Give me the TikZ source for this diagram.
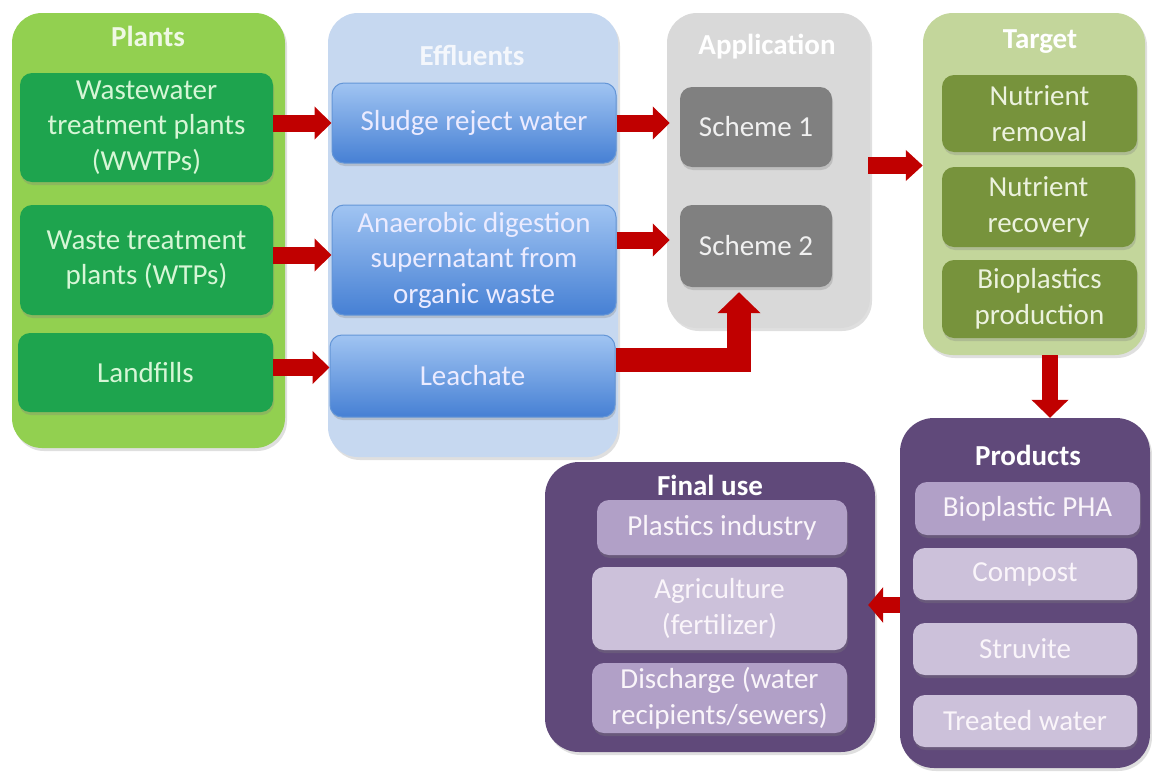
\documentclass[tikz,border=0pt]{standalone}
\usepackage{fontspec}
\setmainfont{Carlito}
\usetikzlibrary{arrows.meta,calc,shadows}

% palette
\definecolor{plantbg}{RGB}{146,208,80}
\definecolor{plantbox}{RGB}{30,164,78}
\definecolor{planttxt}{RGB}{214,246,214}
\definecolor{efflbg}{RGB}{198,216,240}
\definecolor{effltop}{RGB}{160,196,242}
\definecolor{efflbot}{RGB}{70,128,212}
\definecolor{efflline}{RGB}{100,150,215}
\definecolor{appbg}{RGB}{217,217,217}
\definecolor{schemebox}{RGB}{128,128,128}
\definecolor{targetbg}{RGB}{195,214,155}
\definecolor{targetbox}{RGB}{119,147,60}
\definecolor{targettxt}{RGB}{236,242,222}
\definecolor{purplebg}{RGB}{96,73,122}
\definecolor{lavdark}{RGB}{177,160,199}
\definecolor{lavlight}{RGB}{204,193,218}
\definecolor{arrowred}{RGB}{192,0,0}

\tikzset{
  base/.style={rectangle, inner sep=0pt, align=center,
    font=\fontsize{29}{35.5}\selectfont},
  container/.style={base, rounded corners=30pt,
    drop shadow={opacity=0.25, shadow xshift=2pt, shadow yshift=-3pt}},
  inbox/.style={base, rounded corners=12pt,
    drop shadow={opacity=0.3, shadow xshift=1pt, shadow yshift=-3pt}},
  heading/.style={base, font=\fontsize{29}{35}\selectfont\bfseries, text=white},
  plantbx/.style={inbox, fill=plantbox, text=planttxt},
  efflbx/.style={inbox, top color=effltop, bottom color=efflbot, draw=efflline,
    line width=1pt, text=white!92!blue},
  schemebx/.style={inbox, fill=schemebox, text=white!94!black},
  targetbx/.style={inbox, fill=targetbox, text=targettxt},
  lavd/.style={inbox, fill=lavdark, text=white!96!violet},
  lavl/.style={inbox, fill=lavlight, text=white!96!violet},
  redarr/.style={draw=arrowred, line width=17pt,
    -{Triangle[length=17pt, width=32pt]}},
  bigarr/.style={draw=arrowred, line width=24pt, miter limit=10,
    -{Triangle[length=21pt, width=42pt]}},
}

\begin{document}
\begin{tikzpicture}[x=1pt, y=-1pt]
\useasboundingbox[fill=white] (0,0) rectangle (1152,774);

% ---- containers ----
\node[container, fill=plantbg, minimum width=273pt, minimum height=435pt] (plants) at (148.5,230.5) {};
\node[container, fill=efflbg, minimum width=290pt, minimum height=444pt] (effl) at (473,235) {};
\node[container, fill=appbg, minimum width=203pt, minimum height=315pt] (app) at (768.5,170.5) {};
\node[container, fill=targetbg, minimum width=222pt, minimum height=342pt] (target) at (1034,184) {};
\node[container, fill=purplebg, rounded corners=34pt, minimum width=250pt, minimum height=350pt] (products) at (1025,593) {};
\node[container, fill=purplebg, rounded corners=34pt, minimum width=330pt, minimum height=290pt] (final) at (710,607) {};

% ---- headings ----
\node[heading, text=white!85!plantbg] (plantsT) at (148,36) {Plants};
\node[heading, text=white!80!efflbg] (efflT) at (472,55) {Effluents};
\node[heading] (appT) at (767,47) {Application};
\node[heading] (targetT) at (1040,42) {Target};
\node[heading] (prodT) at (1028,455) {Products};
\node[heading] (finalT) at (710,485) {Final use};

% ---- plants ----
\node[plantbx, minimum width=253pt, minimum height=109pt] (wwtp) at (146.5,127.5) {Wastewater\\treatment plants\\(WWTPs)};
\node[plantbx, minimum width=253pt, minimum height=110pt] (wtp) at (146.5,260) {Waste treatment\\plants (WTPs)};
\node[plantbx, minimum width=255pt, minimum height=79pt] (landfill) at (145.5,372.5) {Landfills};

% ---- effluents ----
\node[efflbx, minimum width=284pt, minimum height=80pt] (sludge) at (474,123) {Sludge reject water};
\node[efflbx, minimum width=284pt, minimum height=110pt] (anaer) at (474,260) {Anaerobic digestion\\supernatant from\\organic waste};
\node[efflbx, minimum width=285pt, minimum height=82pt] (leach) at (472.5,376) {Leachate};

% ---- application ----
\node[schemebx, minimum width=152pt, minimum height=80pt] (scheme1) at (756,127) {Scheme 1};
\node[schemebx, minimum width=152pt, minimum height=82pt] (scheme2) at (756,246) {Scheme 2};

% ---- target ----
\node[targetbx, minimum width=195pt, minimum height=77pt] (nrem) at (1039.5,113.5) {Nutrient\\removal};
\node[targetbx, minimum width=193pt, minimum height=80pt] (nrec) at (1038.5,207) {Nutrient\\recovery};
\node[targetbx, minimum width=195pt, minimum height=78pt] (bio) at (1039.5,299) {Bioplastics\\production};

% ---- products ----
\node[lavd, minimum width=225pt, minimum height=53pt] (pha) at (1027.5,508.5) {Bioplastic PHA};
\node[lavl, minimum width=224pt, minimum height=52pt] (compost) at (1025,574) {Compost};
\node[lavl, minimum width=224pt, minimum height=52pt] (struvite) at (1025,649) {Struvite};
\node[lavl, minimum width=224pt, minimum height=52pt] (treated) at (1025,721) {Treated water};

% ---- final use ----
\node[lavd, minimum width=250pt, minimum height=55pt] (plastics) at (722,527.5) {Plastics industry};
\node[lavl, minimum width=255pt, minimum height=83pt] (agri) at (719.5,608.5) {Agriculture\\(fertilizer)};
\node[lavd, minimum width=255pt, minimum height=70pt] (disch) at (719.5,698) {Discharge (water\\recipients/sewers)};

% ---- flow arrows ----
\draw[redarr] (wwtp.east |- sludge.west) -- (sludge.west);
\draw[redarr] ($(wtp.east)+(0,-5)$) coordinate (c2) -- (c2 -| anaer.west);
\draw[redarr] ($(landfill.east)+(0,-5)$) coordinate (c3) -- (c3 -| leach.west);

\draw[redarr] (sludge.east) -- ($(scheme1.west |- sludge.east)+(-10,0)$);
\draw[redarr] ($(anaer.east)+(0,-20)$) coordinate (c5) -- ($(c5 -| scheme2.west)+(-10,0)$);
\draw[bigarr] ($(leach.east)+(0,-16)$) coordinate (c6) -| ($(scheme2.south)+(-17,5)$);

\draw[redarr, -{Triangle[length=17pt, width=30pt]}] ($(app.east)+(-2,-5)$) coordinate (c7) -- (c7 -| target.west);
\draw[redarr, line width=16pt, -{Triangle[length=18pt, width=36pt]}] ($(target.south)+(16,0)$) coordinate (c8) -- (c8 |- products.north);
\draw[redarr, line width=16pt, -{Triangle[length=15pt, width=35pt]}] ($(products.west)+(0,12)$) coordinate (c9) -- ($(c9 -| final.east)+(-7,0)$);

\end{tikzpicture}
\end{document}
